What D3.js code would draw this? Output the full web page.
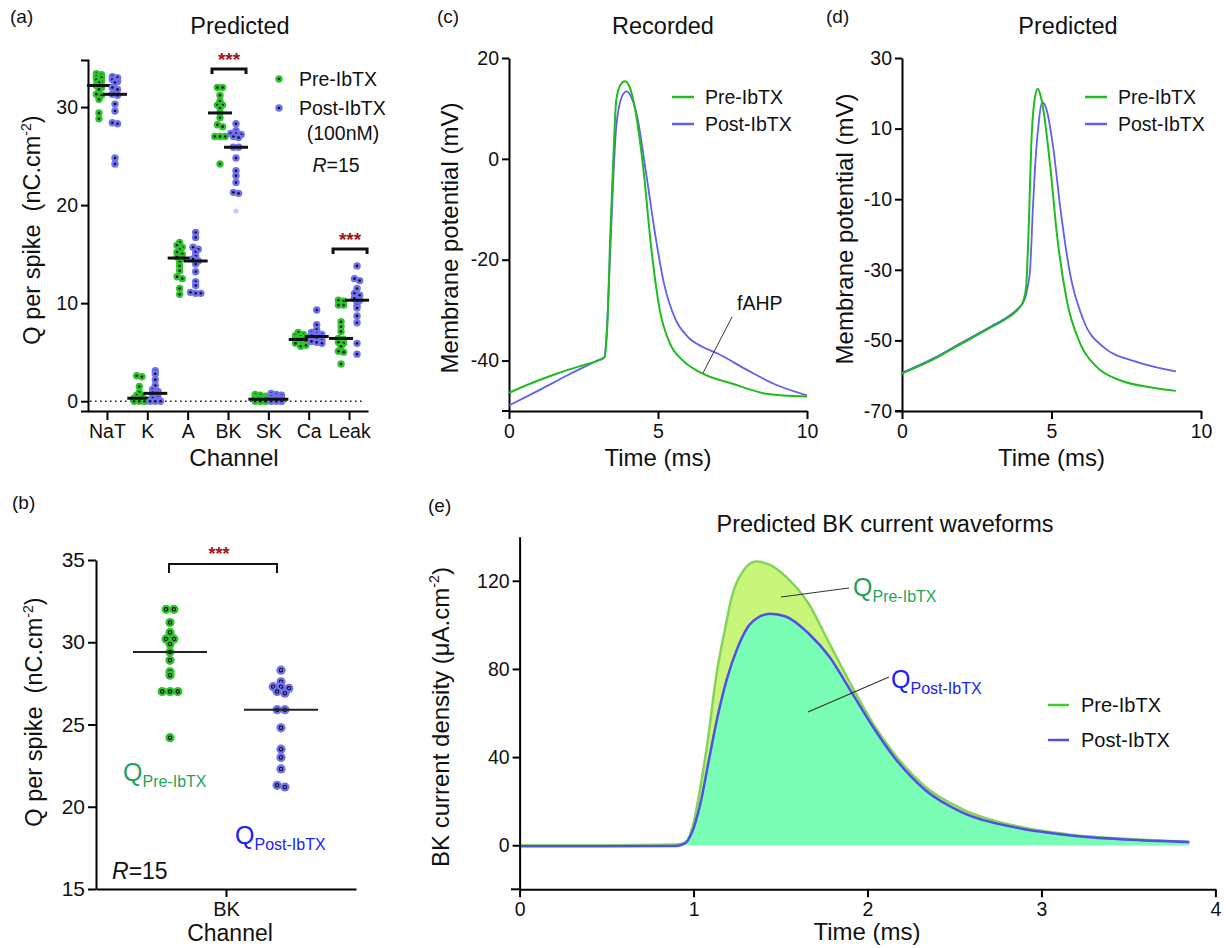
<!DOCTYPE html>
<html>
<head>
<meta charset="utf-8">
<script src="https://cdn.jsdelivr.net/npm/d3@7"></script>
<style>
  body { margin: 0; background: #fff; }
  svg { font-family: "Liberation Sans", Arial, sans-serif; }
</style>
</head>
<body>
<svg id="fig" width="1229" height="948"></svg>
<script>
// ---- data ----
var channels = ["NaT", "K", "A", "BK", "SK", "Ca", "Leak"];

var qPreNaT  = [33.4, 33.3, 33.1, 33.0, 32.8, 32.6, 32.5, 32.2, 32.0, 31.8, 31.3, 31.2, 30.8, 29.4, 28.8];
var qPostNaT = [33.1, 33.0, 32.8, 32.6, 32.5, 32.0, 31.8, 31.3, 31.2, 30.3, 29.6, 28.4, 28.3, 24.8, 24.2];
var qPreK    = [2.6, 2.5, 1.5, 0.9, 0.6, 0.5, 0.3, 0.3, 0.2, 0.1, 0.1, 0.0, 0.0, 0.0, 0.0];
var qPostK   = [3.1, 2.8, 2.2, 1.6, 1.2, 1.0, 0.9, 0.8, 0.6, 0.4, 0.3, 0.1, 0.0, 0.0, 0.0];
var qPreA    = [16.2, 15.9, 15.7, 15.5, 15.2, 15.0, 14.7, 14.6, 14.2, 13.8, 13.3, 12.7, 12.5, 11.5, 10.9];
var qPostA   = [17.2, 16.7, 15.7, 15.5, 15.2, 14.8, 14.5, 14.3, 14.0, 13.2, 12.2, 11.8, 11.1, 11.0, 11.0];
var qPreBK   = [32.0, 32.0, 31.2, 30.6, 30.2, 30.2, 29.9, 29.4, 28.9, 28.2, 28.0, 27.0, 27.0, 27.0, 24.2];
var qPostBK  = [28.3, 27.6, 27.3, 27.3, 27.2, 27.0, 26.9, 25.9, 25.9, 24.8, 23.5, 23.0, 22.3, 21.3, 21.2];
var qPostBKOutlier = [19.4];
var qPreSK   = [0.7, 0.6, 0.5, 0.4, 0.3, 0.3, 0.2, 0.2, 0.1, 0.1, 0.0, 0.0, 0.0, 0.0, 0.0];
var qPostSK  = [0.8, 0.7, 0.6, 0.5, 0.4, 0.3, 0.2, 0.2, 0.2, 0.1, 0.1, 0.0, 0.0, 0.0, 0.0];
var qPreCa   = [7.0, 6.8, 6.7, 6.6, 6.5, 6.4, 6.3, 6.3, 6.2, 6.1, 6.0, 5.9, 5.8, 5.7, 5.6];
var qPostCa  = [9.3, 7.8, 7.3, 7.0, 6.9, 6.8, 6.7, 6.6, 6.5, 6.4, 6.3, 6.2, 6.1, 6.0, 5.9];
var qPreLeak = [10.3, 10.2, 9.8, 9.8, 8.1, 7.6, 7.1, 6.4, 6.3, 6.0, 5.9, 5.6, 5.1, 5.0, 3.8];
var qPostLeak= [13.8, 12.5, 12.3, 11.5, 11.0, 10.8, 10.5, 10.3, 10.1, 9.8, 9.5, 8.7, 8.0, 5.9, 4.8];

var qTicksA = [0, 10, 20, 30];
var qTicksB = [15, 20, 25, 30, 35];
var sigChannels = ["BK", "Leak"];

// [time (ms), membrane potential (mV)]
var recPre = [[0,-46.4],[0.5,-45.1],[1,-43.9],[1.5,-42.8],[2,-41.8],[2.5,-40.9],[3,-40.0],[3.2,-39.4],[3.3,-33],[3.4,-14.8],[3.5,0],[3.6,11.7],[3.75,14.8],[3.89,15.4],[4.03,14.5],[4.17,11.7],[4.5,-1.5],[4.78,-18],[5.06,-30],[5.4,-36.6],[5.84,-40],[6.4,-42.3],[7.5,-44.6],[8.64,-46.6],[9.4,-47],[10,-47.1]];
var recPost = [[0,-48.9],[1,-45.9],[2,-42.8],[3,-39.9],[3.2,-39.3],[3.3,-32],[3.4,-18],[3.5,-4],[3.6,6.4],[3.8,12.5],[3.95,13.4],[4.1,12.3],[4.3,8.4],[4.6,-2.8],[4.9,-14.8],[5.2,-24.7],[5.6,-32],[6.0,-35.3],[6.5,-37.3],[7,-38.6],[8,-41.9],[9,-44.9],[10,-46.9]];
var predPre = [[0,-59.4],[1,-55.6],[2,-50.9],[3,-46.2],[3.5,-43.8],[3.9,-41],[4.05,-39],[4.15,-35],[4.23,-19.8],[4.34,8.6],[4.45,19],[4.54,21.3],[4.63,19.5],[4.73,15.2],[4.96,-0.9],[5.18,-19.8],[5.51,-38.6],[5.96,-50.9],[6.51,-57.5],[7.29,-61.3],[8.4,-63.4],[9.16,-64.3]];
var predPost = [[0,-59.2],[1,-55.3],[2,-50.6],[3,-45.9],[3.5,-43.5],[3.9,-40.8],[4.1,-38.5],[4.2,-35],[4.29,-29.2],[4.38,-12],[4.45,-0.9],[4.57,11.4],[4.68,17.5],[4.76,17],[4.84,15.2],[5.07,3.8],[5.29,-12.2],[5.62,-31.1],[6.07,-44.3],[6.74,-51.9],[7.85,-56.1],[9.16,-58.8]];

// [time (ms), BK current density]
var bkPre = [[0,0],[0.5,0],[0.9,0.3],[0.95,1.2],[1.0,10],[1.04,26.7],[1.085,49.4],[1.13,76.6],[1.18,97.7],[1.22,112.8],[1.29,125],[1.36,128.7],[1.44,127.2],[1.53,121.9],[1.66,109.8],[1.78,91.7],[1.9,73.6],[2.03,55.4],[2.15,41.8],[2.33,26.7],[2.55,16.2],[2.86,8.6],[3.17,4.8],[3.48,2.9],[3.85,1.5]];
var bkPost = [[0,-0.5],[0.5,-0.5],[0.9,-0.3],[0.95,0.8],[0.99,5.6],[1.04,19.2],[1.085,37.3],[1.13,55.4],[1.19,75],[1.255,90],[1.33,100.8],[1.44,105],[1.53,103.8],[1.66,96.2],[1.78,85.6],[1.9,70.5],[2.03,53.9],[2.15,40.3],[2.33,25.2],[2.55,14.7],[2.86,7.9],[3.17,4.4],[3.48,2.6],[3.85,1.5]];

var green = "#2ec42e", blue = "#7070f2", starRed = "#a3151a";
var lineGreen = "#1fbb1f", lineBlue = "#6060ee";
var tickFont = 19.5, titleFont = 23.5, axisFont = 24;

var svg = d3.select("#fig");
var plain = function(d) { return String(d); };

function addAxisStyle(g) {
    g.selectAll(".domain").attr("stroke", "#000").attr("stroke-width", 2);
    g.selectAll(".tick line").attr("stroke", "#000").attr("stroke-width", 2);
    g.selectAll(".tick text").attr("fill", "#111").attr("font-size", tickFont)
        .style("font-family", "Liberation Sans, Arial, sans-serif");
}

function label(x, y, txt, size, anchor) {
    return svg.append("text").attr("x", x).attr("y", y)
        .attr("text-anchor", anchor || "middle")
        .attr("font-size", size).attr("fill", "#111").text(txt);
}

function yLabel(x, y, size, parts) {
    var t = svg.append("text").attr("transform", "translate(" + x + "," + y + ") rotate(-90)")
        .attr("text-anchor", "middle").attr("font-size", size).attr("fill", "#111");
    parts.forEach(function(p) {
        var s = t.append("tspan").text(p.t);
        if (p.sup) s.attr("font-size", size * 0.6).attr("dy", -size * 0.4);
        if (p.down) s.attr("dy", size * 0.4);
    });
    return t;
}

// rows of near-equal values spread sideways, centred on cx
function swarm(values, cx, yScale, d, binH, maxRow) {
    var rows = [], cur = null;
    values.slice().sort(function(a, b) { return b - a; }).forEach(function(v) {
        var y = yScale(v);
        if (!cur || y - cur.y0 > binH || cur.pts.length >= maxRow) {
            cur = {y0: y, pts: []};
            rows.push(cur);
        }
        cur.pts.push(y);
    });
    var out = [];
    rows.forEach(function(row) {
        var n = row.pts.length;
        row.pts.forEach(function(y, i) { out.push({x: cx + (i - (n - 1) / 2) * d, y: y}); });
    });
    return out;
}

// ================= panel (a) =================
var groupsA = [
    {ch: "NaT", pre: qPreNaT, post: qPostNaT},
    {ch: "K", pre: qPreK, post: qPostK},
    {ch: "A", pre: qPreA, post: qPostA},
    {ch: "BK", pre: qPreBK, post: qPostBK},
    {ch: "SK", pre: qPreSK, post: qPostSK},
    {ch: "Ca", pre: qPreCa, post: qPostCa},
    {ch: "Leak", pre: qPreLeak, post: qPostLeak}
];

var xA = d3.scalePoint().domain(channels).range([88, 368]).padding(0.47);
var yA = d3.scaleLinear().domain([-1, 34.8]).range([411, 60]);

svg.append("g").attr("transform", "translate(88,0)")
    .call(d3.axisLeft(yA).tickValues(qTicksA).tickFormat(plain).tickSize(7).tickPadding(3))
    .call(addAxisStyle);
svg.append("g").attr("transform", "translate(0,411)")
    .call(d3.axisBottom(xA).tickSize(9).tickPadding(4).tickSizeOuter(0))
    .call(addAxisStyle);

svg.append("line").attr("x1", 90).attr("x2", 363).attr("y1", yA(0)).attr("y2", yA(0))
    .attr("stroke", "#222").attr("stroke-width", 1.6).attr("stroke-dasharray", "1.6,3.4");

var rA = 3.7;
groupsA.forEach(function(g) {
    [{vals: g.pre, dx: -8, col: green}, {vals: g.post, dx: 8, col: blue}].forEach(function(s) {
        var cx = xA(g.ch) + s.dx;
        var pts = swarm(s.vals, cx, yA, 5.2, 2.6, 3);
        var dots = svg.append("g").selectAll("g").data(pts).enter().append("g");
        dots.append("circle").attr("cx", function(d) { return d.x; }).attr("cy", function(d) { return d.y; })
            .attr("r", rA).attr("fill", s.col);
        dots.append("circle").attr("cx", function(d) { return d.x; }).attr("cy", function(d) { return d.y; })
            .attr("r", 1.3).attr("fill", "#111");
        var med = d3.median(s.vals);
        svg.append("line").attr("x1", cx - 12).attr("x2", cx + 12)
            .attr("y1", yA(med)).attr("y2", yA(med)).attr("stroke", "#111").attr("stroke-width", 3);
    });
});
svg.selectAll(".outlier").data(qPostBKOutlier).enter().append("circle")
    .attr("cx", xA("BK") + 8).attr("cy", function(d) { return yA(d); })
    .attr("r", 2.6).attr("fill", "#c8c8f4");

// significance brackets
sigChannels.forEach(function(ch) {
    var ys = ch === "BK" ? 69 : 249;
    var x0 = xA(ch) - 16, x1 = xA(ch) + 18;
    svg.append("path").attr("d", "M" + x0 + "," + (ys + 5) + "V" + ys + "H" + x1 + "V" + (ys + 5))
        .attr("fill", "none").attr("stroke", "#111").attr("stroke-width", 3);
    svg.append("text").attr("x", (x0 + x1) / 2).attr("y", ys - 3).attr("text-anchor", "middle")
        .attr("font-size", 19).attr("font-weight", "bold").attr("fill", starRed).text("***");
});

// legend (a)
[{t: "Pre-IbTX", c: green, y: 79}, {t: "Post-IbTX", c: blue, y: 108}].forEach(function(l) {
    svg.append("circle").attr("cx", 279).attr("cy", l.y).attr("r", rA).attr("fill", l.c);
    svg.append("circle").attr("cx", 279).attr("cy", l.y).attr("r", 1.3).attr("fill", "#111");
    label(299, l.y + 7, l.t, 19.5, "start");
});
label(343, 140, "(100nM)", 19.5);
var rtA = label(336, 172, "", 19.5);
rtA.append("tspan").attr("font-style", "italic").text("R");
rtA.append("tspan").text("=15");

label(10, 23, "(a)", 19, "start");
label(240, 34, "Predicted", titleFont);
label(234, 466, "Channel", axisFont);
yLabel(40, 230, 23.5, [{t: "Q per spike\u00a0\u00a0(nC.cm"}, {t: "-2", sup: true}, {t: ")", down: true}]);

// ================= panel (b) =================
var xB = d3.scalePoint().domain(["BK"]).range([96, 356]).padding(0.5);
var yB = d3.scaleLinear().domain([15, 35]).range([889, 560]);

svg.append("g").attr("transform", "translate(96,0)")
    .call(d3.axisLeft(yB).tickValues(qTicksB).tickFormat(plain).tickSize(8).tickPadding(3).tickSizeOuter(0))
    .call(addAxisStyle).call(function(g) { g.selectAll(".tick text").attr("font-size", 21); });
svg.append("g").attr("transform", "translate(0,889)")
    .call(d3.axisBottom(xB).tickSize(8).tickPadding(5).tickSizeOuter(0))
    .call(addAxisStyle).call(function(g) { g.selectAll(".tick text").attr("font-size", 20); });

var rB = 4.6;
[{vals: qPreBK, cx: 170, col: green}, {vals: qPostBK, cx: 281, col: blue}].forEach(function(s) {
    var pts = swarm(s.vals, s.cx, yB, 7.8, 3, 3);
    var dots = svg.append("g").selectAll("g").data(pts).enter().append("g");
    dots.append("circle").attr("cx", function(d) { return d.x; }).attr("cy", function(d) { return d.y; })
        .attr("r", rB).attr("fill", s.col);
    dots.append("circle").attr("cx", function(d) { return d.x; }).attr("cy", function(d) { return d.y; })
        .attr("r", 1.7).attr("fill", "none").attr("stroke", "#111").attr("stroke-width", 1.1);
    var med = d3.median(s.vals);
    svg.append("line").attr("x1", s.cx - 37).attr("x2", s.cx + 37)
        .attr("y1", yB(med)).attr("y2", yB(med)).attr("stroke", "#222").attr("stroke-width", 2);
});
svg.append("path").attr("d", "M169,573V564H277V573").attr("fill", "none")
    .attr("stroke", "#111").attr("stroke-width", 2);
svg.append("text").attr("x", 219).attr("y", 560).attr("text-anchor", "middle")
    .attr("font-size", 18).attr("font-weight", "bold").attr("fill", starRed).text("***");

function qLabel(x, y, sub, col, size, subSize) {
    var t = svg.append("text").attr("x", x).attr("y", y).attr("fill", col).attr("font-size", size);
    t.append("tspan").text("Q");
    t.append("tspan").attr("font-size", subSize).attr("dy", size * 0.24).text(sub);
    return t;
}
qLabel(123, 781, "Pre-IbTX", "#1fa35a", 25, 16);
qLabel(235, 844, "Post-IbTX", "#2020ff", 25, 16);
var rtB = label(112, 879, "", 23, "start");
rtB.append("tspan").attr("font-style", "italic").text("R");
rtB.append("tspan").text("=15");

label(12, 509, "(b)", 19, "start");
label(230, 941, "Channel", 23);
yLabel(42, 712, 23.5, [{t: "Q per spike\u00a0\u00a0(nC.cm"}, {t: "-2", sup: true}, {t: ")", down: true}]);

// ================= panels (c) and (d) =================
function tracePanel(opt) {
    var x = d3.scaleLinear().domain([0, 10]).range(opt.xr);
    var y = d3.scaleLinear().domain(opt.yd).range([411, 58]);
    svg.append("g").attr("transform", "translate(" + opt.xr[0] + ",0)")
        .call(d3.axisLeft(y).tickValues(opt.yt).tickFormat(plain).tickSize(7).tickPadding(3).tickSizeOuter(0))
        .call(addAxisStyle);
    svg.append("g").attr("transform", "translate(0,411)")
        .call(d3.axisBottom(x).tickValues([0, 5, 10]).tickFormat(plain).tickSize(8).tickPadding(5).tickSizeOuter(0))
        .call(addAxisStyle);
    svg.append("line").attr("x1", opt.xr[0] - 7).attr("x2", opt.xr[0]).attr("y1", 411).attr("y2", 411)
        .attr("stroke", "#000").attr("stroke-width", 2);

    var line = d3.line().x(function(d) { return x(d[0]); }).y(function(d) { return y(d[1]); })
        .curve(d3.curveMonotoneX);
    svg.append("path").datum(opt.post).attr("d", line).attr("fill", "none")
        .attr("stroke", lineBlue).attr("stroke-width", 1.8);
    svg.append("path").datum(opt.pre).attr("d", line).attr("fill", "none")
        .attr("stroke", lineGreen).attr("stroke-width", 2);

    var lx = opt.legX;
    [{t: "Pre-IbTX", c: lineGreen, y: 97}, {t: "Post-IbTX", c: lineBlue, y: 124}].forEach(function(l) {
        svg.append("line").attr("x1", lx).attr("x2", lx + 22).attr("y1", l.y).attr("y2", l.y)
            .attr("stroke", l.c).attr("stroke-width", 2.5);
        label(lx + 33, l.y + 7, l.t, 19.5, "start");
    });
    label(opt.tag[0], 23, opt.tag[1], 19, "start");
    label(opt.titleX, 34, opt.title, titleFont);
    label((opt.xr[0] + opt.xr[1]) / 2, 466, "Time (ms)", axisFont);
    yLabel(opt.ylx, opt.yly, axisFont, [{t: "Membrane potential (mV)"}]);
    return {x: x, y: y};
}

tracePanel({xr: [509, 807], yd: [-50, 20], yt: [-40, -20, 0, 20], pre: recPre, post: recPost,
    legX: 672, tag: [437, "(c)"], title: "Recorded", titleX: 663, ylx: 458, yly: 238});
tracePanel({xr: [902, 1201], yd: [-70, 30], yt: [-70, -50, -30, -10, 10, 30], pre: predPre, post: predPost,
    legX: 1085, tag: [826, "(d)"], title: "Predicted", titleX: 1068, ylx: 853, yly: 229});

// fAHP annotation
svg.append("line").attr("x1", 732).attr("y1", 317).attr("x2", 703).attr("y2", 373)
    .attr("stroke", "#333").attr("stroke-width", 1);
label(737, 310, "fAHP", 19.5, "start");

// ================= panel (e) =================
var xE = d3.scaleLinear().domain([0, 4]).range([519.6, 1215.4]);
var yE = d3.scaleLinear().domain([-20, 140]).range([889.3, 536.7]);

var areaE = d3.area().x(function(d) { return xE(d[0]); }).y0(yE(0)).y1(function(d) { return yE(d[1]); })
    .curve(d3.curveMonotoneX);
var lineE = d3.line().x(function(d) { return xE(d[0]); }).y(function(d) { return yE(d[1]); })
    .curve(d3.curveMonotoneX);

svg.append("path").datum(bkPre).attr("d", areaE).attr("fill", "#c9f57a");
svg.append("path").datum(bkPost).attr("d", areaE).attr("fill", "#79fcb4");
svg.append("path").datum(bkPre).attr("d", lineE).attr("fill", "none").attr("stroke", "#84d35c").attr("stroke-width", 2.5);
svg.append("path").datum(bkPost).attr("d", lineE).attr("fill", "none").attr("stroke", "#5050e6").attr("stroke-width", 2.5);

svg.append("g").attr("transform", "translate(519.6,0)")
    .call(d3.axisLeft(yE).tickValues([0, 40, 80, 120]).tickFormat(plain).tickSize(7).tickPadding(3).tickSizeOuter(0))
    .call(addAxisStyle);
svg.append("g").attr("transform", "translate(0,889.3)")
    .call(d3.axisBottom(xE).tickValues([0, 1, 2, 3, 4]).tickFormat(plain).tickSize(8).tickPadding(5).tickSizeOuter(0))
    .call(addAxisStyle);
svg.append("line").attr("x1", 511).attr("x2", 519.6).attr("y1", 889.3).attr("y2", 889.3)
    .attr("stroke", "#000").attr("stroke-width", 2);

svg.append("line").attr("x1", 781).attr("y1", 597).attr("x2", 849).attr("y2", 588).attr("stroke", "#333").attr("stroke-width", 1.2);
svg.append("line").attr("x1", 808).attr("y1", 712).attr("x2", 889).attr("y2", 677).attr("stroke", "#333").attr("stroke-width", 1.2);
qLabel(853, 596, "Pre-IbTX", "#1fa35a", 25, 16);
qLabel(891, 688, "Post-IbTX", "#2020ff", 25, 16);

[{t: "Pre-IbTX", c: "#3ccf2a", y: 705}, {t: "Post-IbTX", c: "#5050e6", y: 740}].forEach(function(l) {
    svg.append("line").attr("x1", 1048).attr("x2", 1069).attr("y1", l.y).attr("y2", l.y)
        .attr("stroke", l.c).attr("stroke-width", 2.5);
    label(1081, l.y + 7, l.t, 20, "start");
});

label(428, 512, "(e)", 19, "start");
label(885, 532, "Predicted BK current waveforms", 23.5);
label(867, 940, "Time (ms)", axisFont);
yLabel(449, 717, axisFont, [{t: "BK current density ("}, {t: "\u03bcA.cm"}, {t: "-2", sup: true}, {t: ")", down: true}]);
</script>
</body>
</html>
